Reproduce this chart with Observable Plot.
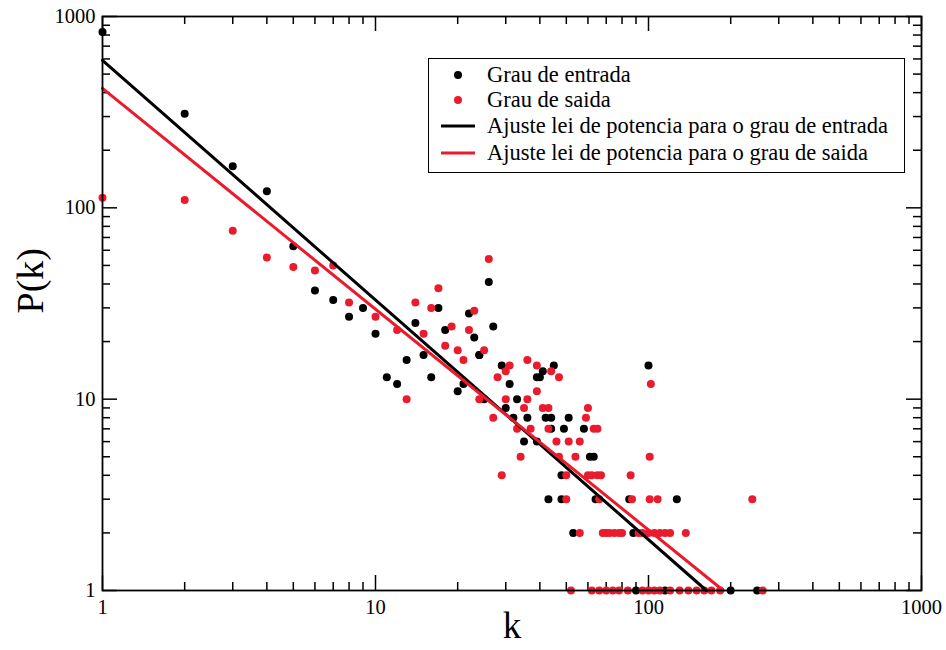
<!DOCTYPE html>
<html>
<head>
<meta charset="utf-8">
<script src="https://cdn.jsdelivr.net/npm/d3@7"></script>
<script src="https://cdn.jsdelivr.net/npm/@observablehq/plot@0.6"></script>
<style>
  html, body { margin: 0; padding: 0; background: #fff; }
  #wrap { position: relative; width: 946px; height: 650px; font-family: "Liberation Serif", "DejaVu Serif", serif; }
  #legend { position: absolute; left: 428px; top: 58px; width: 477px; height: 115px; border: 1.5px solid #000; background: #fff; box-sizing: border-box; }
  .row { position: absolute; left: 0; height: 26px; display: flex; align-items: center; font-size: 22.5px; color: #000; white-space: nowrap; }
  .sym { width: 58px; display: flex; justify-content: center; align-items: center; }
</style>
</head>
<body>
<div id="wrap"></div>
<script>
// ---- Data ----
// In-degree ("Grau de entrada")
const kIn = [1,2,3,4,5,6,7,8,9,10,11,12,13,14,15,16,17,18,20,21,22,23,24,24,25,26,27,29,30,31,32,33,35,36,39,39,40,41,42,43,44,44,45,48,48,49,51,53,58,61,63,64,85,88,90,100,115,127,200,250];
const pIn = [830,310,165,122,63,37,33,27,30,22,13,12,16,25,17,13,30,23,11,12,28,21,17,17,10,41,24,15,9,12,8,10,6,8,6,13,13,14,8,3,7,8,15,4,3,7,8,2,7,5,5,3,3,2,1,15,1,3,1,1];
// Out-degree ("Grau de saida")
const kOut = [1,2,3,4,5,6,7,8,10,12,13,14,15,16,17,18,19,20,21,22,23,24,25,26,27,28,29,30,30,31,33,34,35,36,36,37,39,39,41,43,43,44,46,47,47,50,50,51,54,56,56,59,60,60,62,63,65,65,66,67,68,70,72,75,78,80,86,87,92,95,100,101,101,102,105,108,110,115,120,137,240,
  52,62,66,70,74,78,84,95,100,105,110,120,130,140,150,160,170,183,262];
const pOut = [113,110,76,55,49,47,50,32,27,23,10,32,22,30,38,19,24,18,16,23,29,10,18,54,8,13,4,14,10,15,7,5,9,16,10,7,15,11,9,9,7,14,6,13,5,4,3,6,5,6,2,8,9,4,4,7,7,4,3,4,2,2,2,2,2,2,4,3,2,2,2,5,3,12,2,3,2,2,2,2,3,
  1,1,1,1,1,1,1,1,1,1,1,1,1,1,1,1,1,1,1];
// Power-law fits (endpoints)
const fitInK = [1, 163];
const fitInP = [590, 1];
const fitOutK = [1, 188];
const fitOutP = [421, 1];
// Axis ticks
const majorTicks = [1, 10, 100, 1000];
const minorTicks = [2,3,4,5,6,7,8,9,20,30,40,50,60,70,80,90,200,300,400,500,600,700,800,900];
// Legend labels
const legendLabels = ["Grau de entrada", "Grau de saida", "Ajuste lei de potencia para o grau de entrada", "Ajuste lei de potencia para o grau de saida"];

const BLACK = "#000000";
const RED = "#ea1b2d";

const ptsIn = kIn.map((k, i) => ({k, p: pIn[i]}));
const ptsOut = kOut.map((k, i) => ({k, p: pOut[i]}));
const lineIn = fitInK.map((k, i) => ({k, p: fitInP[i]}));
const lineOut = fitOutK.map((k, i) => ({k, p: fitOutP[i]}));

const W = 946, H = 650;
const mT = 16, mR = 25, mB = 60, mL = 102;
const pw = W - mL - mR, ph = H - mT - mB;
const MAJ = 15, MIN = 8;

const chart = Plot.plot({
  width: W, height: H,
  marginTop: mT, marginRight: mR, marginBottom: mB, marginLeft: mL,
  style: {fontFamily: "'Liberation Serif', 'DejaVu Serif', serif", fontSize: "20px", background: "white", color: "black"},
  x: {type: "log", domain: [1, 1000], axis: null},
  y: {type: "log", domain: [1, 1000], axis: null},
  marks: [
    // tick labels
    Plot.axisX(majorTicks, {x: d => d, anchor: "bottom", tickSize: 0, tickPadding: 9, tickFormat: d => String(d), fontSize: 20.5, label: null}),
    Plot.axisY(majorTicks, {y: d => d, anchor: "left", tickSize: 0, tickPadding: 7, tickFormat: d => String(d), fontSize: 20.5, label: null}),
    // inward ticks: bottom, top, left, right
    Plot.tickX(majorTicks, {x: d => d, insetTop: ph - MAJ, stroke: BLACK, strokeWidth: 1.5}),
    Plot.tickX(minorTicks, {x: d => d, insetTop: ph - MIN, stroke: BLACK, strokeWidth: 1.5}),
    Plot.tickX(majorTicks, {x: d => d, insetBottom: ph - MAJ, stroke: BLACK, strokeWidth: 1.5}),
    Plot.tickX(minorTicks, {x: d => d, insetBottom: ph - MIN, stroke: BLACK, strokeWidth: 1.5}),
    Plot.tickY(majorTicks, {y: d => d, insetRight: pw - MAJ, stroke: BLACK, strokeWidth: 1.5}),
    Plot.tickY(minorTicks, {y: d => d, insetRight: pw - MIN, stroke: BLACK, strokeWidth: 1.5}),
    Plot.tickY(majorTicks, {y: d => d, insetLeft: pw - MAJ, stroke: BLACK, strokeWidth: 1.5}),
    Plot.tickY(minorTicks, {y: d => d, insetLeft: pw - MIN, stroke: BLACK, strokeWidth: 1.5}),
    // data
    Plot.dot(ptsIn, {x: "k", y: "p", r: 4, fill: BLACK, stroke: "none"}),
    Plot.dot(ptsOut, {x: "k", y: "p", r: 4, fill: RED, stroke: "none"}),
    Plot.line(lineIn, {x: "k", y: "p", stroke: BLACK, strokeWidth: 3}),
    Plot.line(lineOut, {x: "k", y: "p", stroke: RED, strokeWidth: 3}),
    Plot.frame({stroke: BLACK, strokeWidth: 1.8}),
    // axis titles
    Plot.text(["k"], {frameAnchor: "bottom", dy: 47, fontSize: 37, text: d => d}),
    Plot.text(["P(k)"], {frameAnchor: "left", dx: -72, dy: 10, rotate: -90, fontSize: 38, text: d => d})
  ]
});

const wrap = document.getElementById("wrap");
wrap.appendChild(chart);

// Legend overlay
const legend = document.createElement("div");
legend.id = "legend";
const rowsTop = [3, 28, 54, 81];
const syms = [
  `<svg width="12" height="12"><circle cx="6" cy="6" r="4" fill="${BLACK}"/></svg>`,
  `<svg width="12" height="12"><circle cx="6" cy="6" r="4" fill="${RED}"/></svg>`,
  `<svg width="34" height="6"><line x1="0" y1="3" x2="34" y2="3" stroke="${BLACK}" stroke-width="3"/></svg>`,
  `<svg width="34" height="6"><line x1="0" y1="3" x2="34" y2="3" stroke="${RED}" stroke-width="3"/></svg>`
];
legendLabels.forEach((lab, i) => {
  const row = document.createElement("div");
  row.className = "row";
  row.style.top = rowsTop[i] + "px";
  row.innerHTML = `<div class="sym">${syms[i]}</div><span>${lab}</span>`;
  legend.appendChild(row);
});
wrap.appendChild(legend);
</script>
</body>
</html>
